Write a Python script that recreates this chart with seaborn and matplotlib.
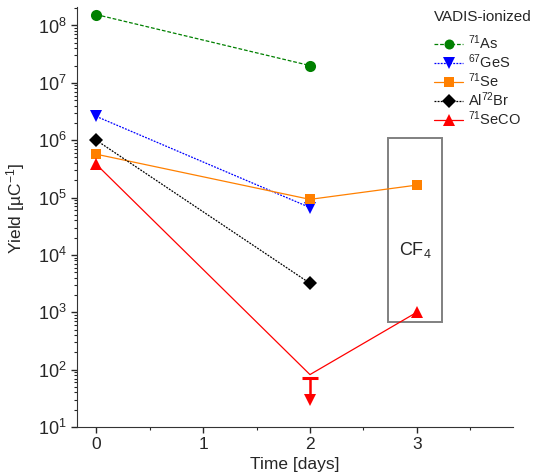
import matplotlib
matplotlib.use("Agg")
import matplotlib.pyplot as plt
import seaborn as sns
import pandas as pd
import numpy as np
from matplotlib.lines import Line2D
from matplotlib.patches import Rectangle
from matplotlib.ticker import MultipleLocator, LogLocator

sns.set_style("ticks")
plt.rcParams['font.family'] = ['Liberation Sans', 'DejaVu Sans']
plt.rcParams['mathtext.fontset'] = 'custom'
plt.rcParams['mathtext.rm'] = 'Liberation Sans'
plt.rcParams['mathtext.it'] = 'Liberation Sans'

# data
days_as = [0, 2]
yield_as = [1.55e8, 2.0e7]
days_ges = [0, 2]
yield_ges = [2.6e6, 6.7e4]
days_se = [0, 2, 3]
yield_se = [5.7e5, 9.3e4, 1.65e5]
days_albr = [0, 2]
yield_albr = [1.0e6, 3.2e3]
days_seco = [0, 2, 3]
yield_seco = [3.8e5, 82, 1.0e3]
seco_detected = [True, False, True]
seco_limit_day = 2
seco_limit = 72
seco_limit_err = 42

labels = ["$^{71}$As", "$^{67}$GeS", "$^{71}$Se", "Al$^{72}$Br", "$^{71}$SeCO"]
colors = ["#008000", "#0000ff", "#ff8000", "#000000", "#ff0000"]
markers = ["o", "v", "s", "D", "^"]
lstyles = [(0, (3, 1.5)), (0, (1.5, 1)), "-", (0, (1.5, 1)), "-"]
msizes = [8, 9, 7.5, 7.5, 9]

fig = plt.figure(figsize=(5.37, 4.76), dpi=100)
ax = fig.add_axes([77/537, 49/476, 436/537, 420/476])

series = [(days_as, yield_as), (days_ges, yield_ges), (days_se, yield_se), (days_albr, yield_albr)]
for (d, y), c, m, ls, ms in zip(series, colors[:4], markers[:4], lstyles[:4], msizes[:4]):
    df = pd.DataFrame({"day": d, "yield": y})
    sns.lineplot(data=df, x="day", y="yield", ax=ax, color=c, lw=0.9, linestyle=ls,
                 marker=m, markersize=ms, markeredgewidth=0, markeredgecolor=c)

# SeCO: line through all, markers only for detected
df = pd.DataFrame({"day": days_seco, "yield": yield_seco, "det": seco_detected})
sns.lineplot(data=df, x="day", y="yield", ax=ax, color=colors[4], lw=0.9)
ddf = df[df["det"]]
ax.plot(ddf["day"], ddf["yield"], ls="none", marker="^", color=colors[4], markersize=9, markeredgewidth=0)
ax.errorbar([seco_limit_day], [seco_limit], yerr=[[seco_limit_err], [0]],
            fmt="none", ecolor=colors[4], elinewidth=1.8, capsize=0)
ax.plot([seco_limit_day], [seco_limit], marker="_", markersize=12, markeredgewidth=2.2, color=colors[4], ls="none")
ax.plot([seco_limit_day], [seco_limit - seco_limit_err], marker="v", markersize=9, markeredgewidth=0, color=colors[4], ls="none")

ax.set_yscale("log")
ax.set_ylim(10, 2.1e8)
ax.set_xlim(-0.18, 3.9)
ax.xaxis.set_major_locator(MultipleLocator(1))
ax.xaxis.set_minor_locator(MultipleLocator(0.5))
ax.yaxis.set_major_locator(LogLocator(base=10, numticks=20))
ax.yaxis.set_minor_locator(LogLocator(base=10, subs=np.arange(2, 10), numticks=20))
ax.tick_params(axis="both", which="major", labelsize=13, length=4, width=1, direction="out")
ax.tick_params(axis="x", which="major", labelsize=12.5)
ax.tick_params(axis="both", which="minor", length=2, width=0.8)
for sp in ["top", "right"]:
    ax.spines[sp].set_visible(False)
ax.spines["left"].set_color("#333333")
ax.spines["bottom"].set_color("#333333")
ax.set_xlabel("Time [days]", fontsize=12.5, labelpad=3)
ax.set_ylabel("Yield [µC$^{-1}$]", fontsize=12.5)
ax.yaxis.set_label_coords(-0.115, 0.519)

# CF4 box
rect = Rectangle((2.73, 690), 0.51, 1.1e6 - 690, fill=False, edgecolor="#808080", lw=1.4)
ax.add_patch(rect)
ax.text(2.985, 1.2e4, "CF$_4$", ha="center", va="center", fontsize=13)

handles = [Line2D([], [], color=c, marker=m, linestyle=ls, lw=0.9, markersize=ms * 0.9, markeredgewidth=0)
           for c, m, ls, ms in zip(colors, markers, lstyles, msizes)]
leg = ax.legend(handles, labels, title="VADIS-ionized", loc="upper left",
                bbox_to_anchor=(424/537, 1.0), bbox_transform=fig.transFigure, frameon=False,
                fontsize=10.5, title_fontsize=11, labelspacing=0.03, handlelength=2.0,
                handletextpad=0.3, borderaxespad=0.3, alignment="left")
leg._legend_box.sep = 6.5
for h in leg.legend_handles:
    pass

fig.savefig("out.png", dpi=100)
